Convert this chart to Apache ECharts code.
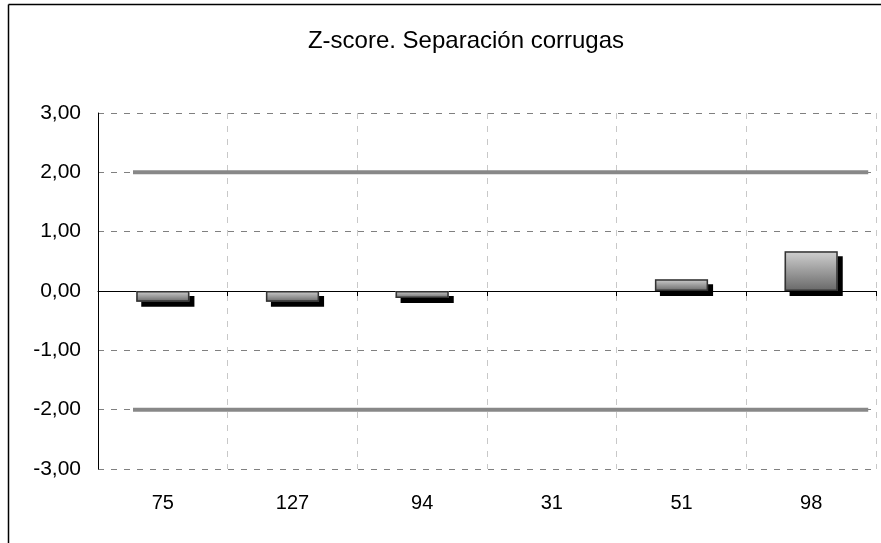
<!DOCTYPE html>
<html>
<head>
<meta charset="utf-8">
<script src="https://cdn.jsdelivr.net/npm/echarts@6/dist/echarts.min.js"></script>
<style>
  html, body { margin: 0; padding: 0; background: #fff; }
  #chart { width: 881px; height: 543px; }
</style>
</head>
<body>
<div id="chart"></div>
<script>
// datos del gráfico
const categories = ['75', '127', '94', '31', '51', '98'];
const zScores = [-0.18, -0.18, -0.12, 0, 0.2, 0.67];
const upperLimit = [[0.27, 2], [5.94, 2]];
const lowerLimit = [[0.27, -2], [5.94, -2]];

const chart = echarts.init(document.getElementById('chart'));

const fmt = v => v.toFixed(2).replace('.', ',');
// el valor 0 no dibuja barra
const barData = zScores.map(v => (v === 0 ? '-' : v));

const option = {
  animation: false,
  backgroundColor: '#fff',
  title: {
    text: 'Z-score. Separación corrugas',
    left: 461,
    top: 24,
    textAlign: 'center',
    textStyle: { fontFamily: 'Liberation Sans', fontSize: 24, fontWeight: 'normal', color: '#000' }
  },
  graphic: [
    { type: 'line', shape: { x1: 8.5, y1: 4.5, x2: 8.5, y2: 543 }, style: { stroke: '#000', lineWidth: 1.5 } },
    { type: 'line', shape: { x1: 8.5, y1: 4.5, x2: 881, y2: 4.5 }, style: { stroke: '#000', lineWidth: 1.5 } }
  ],
  grid: { left: 98, top: 113, right: 5, bottom: 74, containLabel: false },
  xAxis: [
    {
      type: 'category',
      data: categories,
      axisLine: { onZero: true, lineStyle: { color: '#000', width: 1 } },
      axisTick: { show: true, length: 5, lineStyle: { color: '#000' } },
      axisLabel: { show: false },
      splitLine: { show: true, lineStyle: { color: '#c8c8c8', type: [6, 7], width: 1 } }
    },
    {
      // etiquetas de categoría en la parte inferior
      type: 'category',
      data: categories,
      position: 'bottom',
      axisLine: { show: false },
      axisTick: { show: false },
      axisLabel: { margin: 24, fontFamily: 'Liberation Sans', fontSize: 20, color: '#000' },
      splitLine: { show: false }
    },
    {
      type: 'value',
      min: 0,
      max: 6,
      show: false
    }
  ],
  yAxis: {
    type: 'value',
    min: -3,
    max: 3,
    interval: 1,
    axisLine: { show: true, lineStyle: { color: '#000', width: 1 } },
    axisTick: { show: false },
    axisLabel: {
      formatter: fmt,
      margin: 17,
      fontFamily: 'Liberation Sans',
      fontSize: 21,
      color: '#000'
    },
    splitLine: { show: true, lineStyle: { color: '#808080', type: [6, 7], width: 1 } }
  },
  series: [
    {
      type: 'line',
      xAxisIndex: 2,
      data: upperLimit,
      symbol: 'none',
      lineStyle: { color: '#888', width: 4 },
      z: 1
    },
    {
      type: 'line',
      xAxisIndex: 2,
      data: lowerLimit,
      symbol: 'none',
      lineStyle: { color: '#888', width: 4 },
      z: 1
    },
    {
      // relleno con sombra
      type: 'bar',
      xAxisIndex: 0,
      data: barData,
      barWidth: '41%',
      barGap: '-100%',
      itemStyle: {
        color: new echarts.graphic.LinearGradient(0, 0, 0, 1, [
          { offset: 0, color: '#d0d0d0' },
          { offset: 1, color: '#686868' }
        ]),
        borderWidth: 0,
        shadowColor: '#000',
        shadowBlur: 0,
        shadowOffsetX: 5,
        shadowOffsetY: 5
      },
      z: 3
    },
    {
      // borde
      type: 'bar',
      xAxisIndex: 0,
      data: barData,
      barWidth: '41%',
      barGap: '-100%',
      itemStyle: {
        color: 'rgba(0,0,0,0)',
        borderColor: '#333',
        borderWidth: 1.5
      },
      z: 4
    }
  ]
};

chart.setOption(option);
</script>
</body>
</html>
